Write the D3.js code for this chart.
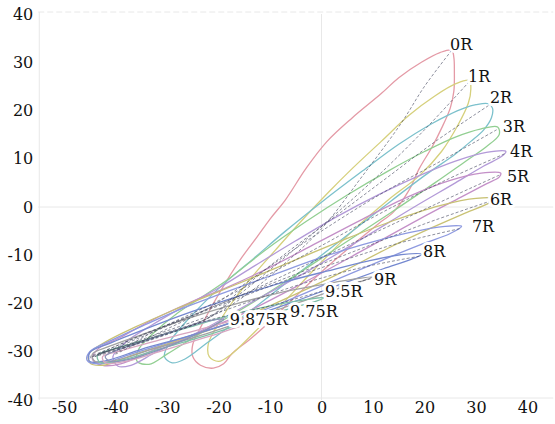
<!DOCTYPE html>
<html><head><meta charset="utf-8">
<script src="https://cdn.jsdelivr.net/npm/d3@7"></script>
<style>body{margin:0;background:#fff}</style>
</head><body>
<svg id="c" width="555" height="424"></svg>
<script>
const xTicks = [-50,-40,-30,-20,-10,0,10,20,30,40];
const yTicks = [-40,-30,-20,-10,0,10,20,30,40];
const seriesNames = ["0R","1R","2R","3R","4R","5R","6R","7R","8R","9R","9.5R","9.75R","9.875R"];

const loop0R = [[25.3,32.5],[23,32],[19.4,30],[15,26.8],[11.6,23.5],[6,18.5],[1,13.5],[-3,8],[-7,1.5],[-10,-2.5],[-12.5,-6.2],[-15.5,-10.5],[-18.3,-15.1],[-21,-20],[-23.5,-25],[-25,-28.5],[-25,-31],[-23.5,-32.8],[-21,-33.4],[-19,-32.5],[-17.4,-30.4],[-14,-27.5],[-11,-24.7],[-5,-18.5],[1,-12.5],[7,-7],[11,-3.5],[14,-1],[17,3.5],[19,8],[21.5,12.5],[23.3,16.3],[25,20.5],[25.7,24],[25.8,28],[25.7,31]];
const loop1R = [[28.7,26.2],[26,25.5],[22,23],[17,19],[11.6,13.6],[6,8],[1.4,3.1],[-4,-3],[-9,-9],[-13.5,-14.5],[-17.5,-20],[-20.5,-25],[-22,-28.5],[-21.8,-31],[-20,-32],[-17.5,-30.5],[-14,-27],[-8,-20.5],[-1,-12.5],[6,-5],[13,1.5],[19,6.5],[23.3,11.5],[26.5,17],[28.5,21.5],[29,24.5]];
const loop2R = [[32.4,21.4],[30,21.2],[27.7,20.5],[24.5,19],[21.3,17.2],[15,13],[8,7.5],[0,1],[-7,-5],[-13,-10.5],[-18,-15],[-22.5,-19.5],[-26.5,-24],[-29.5,-28],[-30.5,-31],[-29,-32.3],[-26.5,-31.5],[-22,-28],[-15,-22.5],[-6,-15],[3,-7.5],[12,0],[20,6.5],[26,11],[29,13.6],[31.5,16],[33,18.5],[33.2,20.5]];
const loop3R = [[34.2,16.6],[31,16.2],[26,14.5],[20,11.5],[13,7.5],[5,2.5],[-3,-3],[-11,-9],[-17.5,-14.5],[-23,-18.5],[-28,-22],[-32.5,-26],[-35.5,-29.5],[-35.8,-32],[-33.5,-32.6],[-30,-30.5],[-24,-26.5],[-16,-21.5],[-7,-15.5],[3,-8.5],[13,-1.5],[22,5],[28,9.5],[32,12.5],[34.5,15]];
const loop4R = [[35.8,11.5],[32,11.3],[26,9.5],[19,6.5],[11,2.5],[3,-2],[-5,-7],[-13,-12.2],[-20,-16.8],[-27,-20.8],[-33,-24.5],[-38,-28],[-40.5,-31],[-39.5,-33],[-37,-32.8],[-32,-30],[-24,-26],[-14,-20],[-3,-13.5],[8,-6.5],[18,0],[26,5],[31.5,8.5],[35,10.5]];
const loop5R = [[34.8,7],[31,7],[25,5.5],[17,2.2],[8,-2.5],[-1,-7.5],[-10,-12.5],[-18,-16.5],[-26,-20],[-33,-23.5],[-39,-27],[-43.5,-29.5],[-44.5,-31.5],[-42.5,-32.8],[-39,-32.5],[-33,-29.8],[-25,-26.5],[-15,-22],[-4,-16],[8,-9],[19,-2.5],[27,2],[32,4.8],[34.5,6.2]];
const loop6R = [[33.5,1.7],[30,1.8],[23,0.3],[14,-2.8],[5,-6.5],[-4,-10.5],[-13,-14.5],[-21,-18],[-29,-21.5],[-36,-24.8],[-42,-28],[-45.2,-30.5],[-45,-32.3],[-42.5,-32.8],[-37,-30.8],[-29,-28],[-19,-24.5],[-8,-19.5],[3,-14],[13,-8.5],[21,-4.5],[28,-1.2],[32.5,0.8]];
const loop7R = [[27.2,-4.0],[24,-4],[17,-5.3],[8,-7.8],[-1,-10.8],[-10,-14.3],[-19,-17.8],[-27,-21],[-34,-24.3],[-40.5,-27.5],[-45,-30],[-45.5,-31.8],[-43,-32.5],[-37,-30.5],[-29,-27.8],[-19,-24.5],[-8,-20],[3,-15],[13,-10.5],[20,-7.5],[25,-5.5]];
const loop8R = [[19.5,-9.8],[16,-9.8],[9,-11.2],[1,-13.3],[-8,-15.8],[-17,-18.8],[-26,-22],[-34,-25.2],[-41,-28.2],[-45,-30.2],[-45,-32],[-42,-31.9],[-35,-29.5],[-26,-26.8],[-16,-23.5],[-5,-19.5],[5,-15.5],[12,-12.8],[17.5,-10.8]];
const loop9R = [[10,-14.5],[6,-15],[-1,-16.3],[-9,-18],[-18,-20.5],[-27,-23.5],[-35,-26.5],[-41,-28.8],[-44.5,-30.5],[-44,-32],[-40,-31.8],[-33,-29.5],[-24,-26.8],[-14,-23.3],[-5,-20],[3,-17],[8,-15.3]];
const loop9_5R = [[0.4,-18.8],[-3,-19.2],[-10,-20.5],[-18,-22.5],[-26,-25],[-34,-27.5],[-40,-29.3],[-43.5,-30.8],[-43,-32.2],[-39,-31.8],[-31,-29.3],[-22,-26.5],[-13,-23.3],[-6,-21],[-1,-19.5]];
const loop9_75R = [[-6.5,-22],[-10,-22.2],[-17,-23.5],[-25,-25.8],[-33,-28],[-39,-29.8],[-42.5,-31],[-42,-32.3],[-38,-32],[-31,-29.8],[-23,-27.2],[-15,-24.5],[-9.5,-22.8]];
const loop9_875R = [[-19,-23.3],[-22,-23.6],[-28,-25.5],[-35,-28],[-40,-29.8],[-42,-31],[-41,-32],[-37,-31.5],[-30,-29],[-24,-26.3],[-20.5,-24.3]];
const loops = [loop0R,loop1R,loop2R,loop3R,loop4R,loop5R,loop6R,loop7R,loop8R,loop9R,loop9_5R,loop9_75R,loop9_875R];

// darker inner cycles
const inner0R = [[25.3,32.5],[20,25],[15.5,17.4],[8,6.5],[0,-4.5],[-8,-12.5],[-15,-18.5],[-22,-23],[-30,-26],[-38,-28.8],[-43.5,-30.5]];
const inner1R = [[28.7,26],[20,16],[10,5.5],[0,-4],[-10,-13],[-17,-19],[-22,-23],[-32,-26.8],[-43,-30.3]];
const inner2R = [[32.4,21],[22,13.5],[12,5.5],[2,-2.5],[-8,-10.5],[-16,-17.5],[-22,-23],[-32,-27],[-43,-30.5]];
const inner3R = [[34,16],[24,10],[12,3],[0,-5],[-11,-13],[-22,-21],[-32,-26.3],[-40,-30.5]];
const inner4R = [[35.5,11],[24,5.5],[12,-1],[0,-8],[-12,-15],[-22,-20.5],[-32,-25.5],[-40,-30.3]];
const inner5R = [[34.5,6.6],[22,0.5],[10,-5.5],[-2,-11.5],[-14,-17.5],[-24,-22],[-34,-26.5],[-44,-31]];
const inner6R = [[33,1.3],[20,-3.5],[8,-8.5],[-4,-13.5],[-16,-18.5],[-26,-22.8],[-36,-27],[-45,-31.3]];
const inner7R = [[26.8,-4.5],[15,-7.5],[3,-11.5],[-9,-16],[-20,-20.5],[-30,-24.5],[-38,-28],[-45,-31]];
const inner8R = [[19,-10.2],[8,-12.5],[-4,-16],[-15,-20],[-25,-23.8],[-35,-27.5],[-44.5,-31]];
const inner9R = [[9.5,-14.9],[0,-17.5],[-10,-20.5],[-22,-23.5],[-33,-27.5],[-44,-31]];
const inners = [inner0R,inner1R,inner2R,inner3R,inner4R,inner5R,inner6R,inner7R,inner8R,inner9R];

const labelAt = [[24.95,32.5],[28.45,25.9],[32.7,21.55],[35.2,15.5],[36.6,10.4],[36.0,5.2],[32.7,0.4],[29.2,-5.2],[19.7,-10.4],[10.2,-16.2],[0.7,-18.65],[-6.1,-22.8],[-17.8,-24.5]];

const colors = ["#e49aa6","#d6d07c","#7cc1cc","#92cf92","#b39ad8","#c490c8","#c9c274","#8e9ae0","#7589d0","#a2a2a2","#80c0a8","#d8a6c0","#8a94b8"];

const FONT = "DejaVu Serif";
const svg = d3.select("#c");
const x = d3.scaleLinear().domain([-55,45]).range([38.25,553.25]);
const y = d3.scaleLinear().domain([-40,40]).range([400,14]);

// light frame/grid
const g0 = svg.append("g").attr("stroke","#e8e8e8").attr("stroke-width",1);
g0.append("line").attr("x1",x(-55)+1).attr("x2",x(-55)+1).attr("y1",y(40)-2).attr("y2",y(-40));
g0.append("line").attr("x1",x(-55)).attr("x2",x(45)).attr("y1",y(40)-2).attr("y2",y(40)-2).attr("stroke-dasharray","6,3");
g0.append("line").attr("x1",x(-55)).attr("x2",x(45)).attr("y1",y(0)).attr("y2",y(0));
g0.append("line").attr("x1",x(-55)).attr("x2",x(45)).attr("y1",y(-40)-2).attr("y2",y(-40)-2);
g0.append("line").attr("x1",x(0)).attr("x2",x(0)).attr("y1",y(40)).attr("y2",y(-40));

const closed = d3.line().x(d=>x(d[0])).y(d=>y(d[1])).curve(d3.curveCatmullRomClosed.alpha(0.5));
const open = d3.line().x(d=>x(d[0])).y(d=>y(d[1])).curve(d3.curveCatmullRom.alpha(0.5));

svg.append("g").selectAll("path").data(loops).join("path")
  .attr("d", d=>closed(d)).attr("fill","none")
  .attr("stroke",(d,i)=>colors[i]).attr("stroke-width",1.3);

svg.append("g").selectAll("path").data(inners).join("path")
  .attr("d", d=>open(d)).attr("fill","none")
  .attr("stroke","#3c4058").attr("stroke-opacity",0.65).attr("stroke-width",0.9)
  .attr("stroke-dasharray","3,2");

// axes
const ax = svg.append("g").attr("transform",`translate(0,${y(-40)})`)
  .call(d3.axisBottom(x).tickValues(xTicks).tickSize(0).tickPadding(2).tickFormat(d=>String(d)));
ax.select(".domain").remove();
ax.selectAll("text").style("font-family",FONT).style("font-size","16px").attr("fill","#111");
const ay = svg.append("g").attr("transform",`translate(${x(-55)},0)`)
  .call(d3.axisLeft(y).tickValues(yTicks).tickSize(0).tickPadding(5).tickFormat(d=>String(d)));
ay.select(".domain").remove();
ay.selectAll("text").style("font-family",FONT).style("font-size","16px").attr("fill","#111");

// series labels
svg.append("g").selectAll("text").data(seriesNames).join("text")
  .attr("x",(d,i)=>x(labelAt[i][0])).attr("y",(d,i)=>y(labelAt[i][1]))
  .style("font-family",FONT).style("font-size","16px").attr("fill","#111")
  .attr("paint-order","stroke").attr("stroke","#fff").attr("stroke-width",6).attr("stroke-linejoin","round")
  .text(d=>d);
</script>
</body></html>
